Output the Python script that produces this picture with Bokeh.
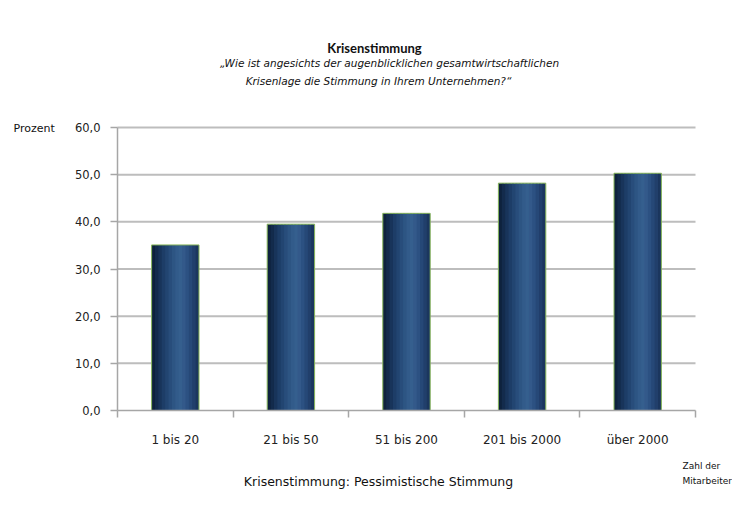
from bokeh.plotting import figure
from bokeh.models import Range1d, FixedTicker, LinearAxis
from bokeh.core.properties import value
from bokeh.embed import file_html
from bokeh.resources import INLINE

categories = ["1 bis 20", "21 bis 50", "51 bis 200", "201 bis 2000", "über 2000"]
values = [35.1, 39.5, 41.8, 48.2, 50.3]
y_ticks = [0, 10, 20, 30, 40, 50, 60]
y_tick_labels = ["0,0", "10,0", "20,0", "30,0", "40,0", "50,0", "60,0"]

FONT = "DejaVu Sans"
TFONT = "Lato"
n = len(categories)
xs = [i + 0.5 for i in range(n)]

# pixel geometry of the plot area (layout only)
FL, FT, FR, FB = 117, 127, 695, 410
W, H = 732, 492
kx = n / (FR - FL)
ky = 60 / (FB - FT)

def dx(px):
    return (px - FL) * kx

def dy(py):
    return (FB - py) * ky

p = figure(width=W, height=H, output_backend="svg", toolbar_location=None,
           x_range=Range1d(dx(0), dx(W)), y_range=Range1d(dy(H), dy(0)),
           min_border=0, x_axis_type=None, y_axis_type=None)
p.outline_line_color = None
p.background_fill_color = "white"
p.ygrid.grid_line_color = None
p.xgrid.grid_line_color = None

def style_axis(ax):
    ax.axis_line_color = "#a6a6a6"
    ax.axis_line_width = 1.5
    ax.major_tick_line_color = "#a6a6a6"
    ax.major_tick_line_width = 1.5
    ax.major_tick_out = 7
    ax.major_tick_in = 0
    ax.minor_tick_line_color = None
    ax.major_label_text_font = FONT
    ax.major_label_text_color = "#222222"

yax = LinearAxis(ticker=FixedTicker(ticks=y_ticks), fixed_location=0, bounds=(0, 60))
style_axis(yax)
yax.major_label_overrides = {t: l for t, l in zip(y_ticks, y_tick_labels)}
yax.major_label_text_font_size = "11.5px"
yax.major_label_standoff = 10
p.add_layout(yax, "left")

xax = LinearAxis(ticker=FixedTicker(ticks=list(range(n + 1))), fixed_location=0, bounds=(0, n))
style_axis(xax)
xax.major_label_text_font_size = "1px"
xax.major_label_text_color = None
p.add_layout(xax, "below")

xlab = LinearAxis(ticker=FixedTicker(ticks=xs), fixed_location=0, bounds=(0, n))
style_axis(xlab)
xlab.axis_line_color = None
xlab.major_tick_line_color = None
xlab.major_label_overrides = {x: c for x, c in zip(xs, categories)}
xlab.major_label_text_font_size = "12px"
xlab.major_label_standoff = 15
p.add_layout(xlab, "below")

grid_y = [t for t in y_ticks if t > 0]
p.segment(x0=[0] * len(grid_y), x1=[n] * len(grid_y), y0=grid_y, y1=grid_y,
          line_color="#bdbdbd", line_width=2)

bar_w = 0.41
profile = ["#0e223d", "#132b4c", "#18345a", "#1d3d67", "#224571", "#284d7b",
           "#2d5583", "#325b8a", "#355f8e", "#33598a", "#2c5182", "#264877",
           "#213f6b", "#1b365e"]
ns = len(profile)
sw = bar_w / ns
for k, col in enumerate(profile):
    off = -bar_w / 2 + sw * (k + 0.5)
    wk = sw * 1.6 if k < ns - 1 else sw
    offk = off + (wk - sw) / 2
    p.vbar(x=[x + offk for x in xs], top=values, width=wk, bottom=0,
           fill_color=col, line_color=None)
p.vbar(x=xs, top=values, width=bar_w, bottom=0, fill_color=None,
       line_color="#86b45a", line_width=1)

def lab(text, px, py, size, align="center", style="normal", font=FONT):
    p.text(x=[dx(px)], y=[dy(py)], text=[text], text_font=value(font),
           text_font_size=size, text_align=align, text_baseline="middle",
           text_font_style=style, text_color="#111111")

lab("Krisenstimmung", 374, 47, "13px", style="bold", font=TFONT)
lab("„Wie ist angesichts der augenblicklichen gesamtwirtschaftlichen", 389, 62, "10.5px", style="italic")
lab("Krisenlage die Stimmung in Ihrem Unternehmen?“", 378, 80, "10.5px", style="italic")
lab("Prozent", 13, 128, "11px", align="left")
lab("Zahl der", 682, 465, "9px", align="left")
lab("Mitarbeiter", 682, 480, "9px", align="left")
lab("Krisenstimmung: Pessimistische Stimmung", 378, 481, "12.5px")

open("out.html", "w").write(file_html(p, INLINE))
